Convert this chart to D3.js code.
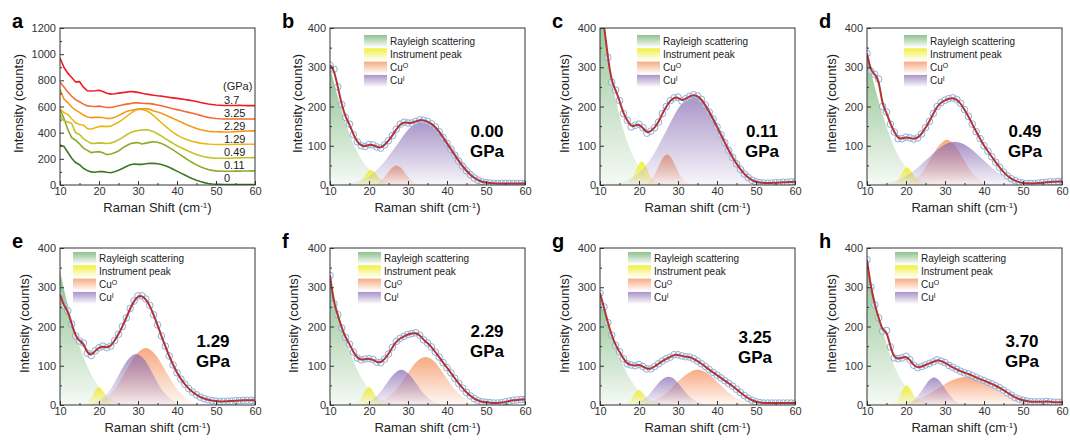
<!DOCTYPE html>
<html lang="en">
<head>
<meta charset="UTF-8">
<title>Raman spectra under pressure</title>
<script src="https://d3js.org/d3.v7.min.js"></script>
<style>
  body { margin: 0; background: #fff; }
  svg { font-family: "Liberation Sans", Arial, sans-serif; }
</style>
</head>
<body>
<div id="chart"></div>
<script>
// ---- data ----
const pressures = ["0", "0.11", "0.49", "1.29", "2.29", "3.25", "3.7"];
const gpaLabels = ["0.00", "0.11", "0.49", "1.29", "2.29", "3.25", "3.70"];
const stackOffsets = [0, 100, 200, 300, 400, 500, 600];
const lineColors = ["#3d7a1e", "#8aac2e", "#c4c12a", "#e8b820", "#f39a1c", "#f46a30", "#ef1c23"];

// measured counts, one per cm-1 from 10 to 60
const shift = d3.range(10, 61);
const obsB = [305,295,250,205,172,155,128,110,100,98, 103,102,97,94,102,113,126,142,155,160, 158,158,162,166,165,162,156,148,136,121, 106,91,76,61,48,36,26,18,12,8, 6,5,4,4,4,4,4,4,4,4, 4];
const obsC = [480,410,325,262,242,215,182,165,148,152, 155,146,132,137,146,160,182,200,215,222, 224,214,220,226,230,227,218,204,186,168, 148,128,108,88,70,54,40,28,19,12, 8,6,5,5,5,6,6,7,7,8, 8];
const obsD = [335,290,282,270,200,186,155,135,118,118, 122,120,117,120,130,146,162,182,200,210, 216,220,222,218,208,192,175,155,136,118, 100,86,72,58,45,33,23,16,11,7, 5,4,4,4,5,6,7,8,8,9, 9];
const obsE = [282,253,240,206,176,163,158,132,126,138, 146,150,146,150,164,180,200,222,246,265, 278,278,270,254,230,204,176,150,125,102, 82,66,53,42,33,26,20,16,13,11, 10,9,9,10,10,11,11,12,12,12, 12];
const obsF = [330,258,230,196,172,155,135,120,115,117, 118,116,109,108,117,130,147,162,170,175, 180,182,184,178,166,158,148,135,122,108, 95,82,68,55,43,32,23,16,11,8, 7,6,5,5,6,8,10,12,13,14, 14];
const obsG = [285,250,210,178,152,136,118,105,102,100, 103,98,92,92,98,105,112,118,122,128, 128,125,123,122,118,112,105,98,90,83, 76,69,62,55,48,40,32,24,17,12, 8,6,5,5,5,5,5,5,5,5, 5];
const obsH = [370,300,255,222,188,190,148,120,118,120, 124,115,101,95,98,102,106,110,115,112, 108,101,96,91,86,82,79,75,70,66, 62,58,54,49,44,38,31,25,19,15, 12,10,8,8,8,8,9,8,7,7, 7];

// fitted components, [shift, counts]
const rayB = [[10,301],[12,224],[14,158],[16,105],[18,66],[20,40],[22,22],[24,12],[26,6],[28,3],[30,1]];
const insB = [[16,1],[17.5,8],[18.5,19],[19.5,32],[20.5,38],[21.5,32],[22.5,19],[23.5,8],[25,1]];
const cuoB = [[20.1,0],[21.3,2],[22.4,7],[23.6,16],[24.7,30],[25.9,44],[27,50],[28.2,44],[29.3,30],[30.5,16],[31.6,7],[32.8,2],[33.9,0]];
const cuiB = [[13,2],[16.5,7],[20,22],[23.5,54],[27,100],[30.5,146],[34,165],[37.5,146],[41,100],[44.5,54],[48,22],[51.5,7],[55,2]];

const rayC = [[10,460],[12,330],[14,220],[16,140],[18,85],[20,48],[22,25],[24,12],[26,5],[28,2],[30,1]];
const insC = [[16.2,1],[17.7,10],[18.7,27],[19.7,49],[20.7,60],[21.7,49],[22.7,27],[23.7,10],[25.2,1]];
const cuoC = [[20.6,1],[21.7,3],[22.8,11],[23.9,25],[25,47],[26.1,69],[27.2,78],[28.3,69],[29.4,47],[30.5,25],[31.6,11],[32.7,3],[33.8,1]];
const cuiC = [[13,3],[16.5,10],[20,31],[23.5,74],[27,138],[30.5,201],[34,228],[37.5,201],[41,138],[44.5,74],[48,31],[51.5,10],[55,3]];

const rayD = [[10,330],[12,250],[14,180],[16,120],[18,75],[20,45],[22,24],[24,12],[26,5],[28,2],[30,1]];
const insD = [[15.8,0],[17.3,6],[18.3,18],[19.3,36],[20.3,45],[21.3,36],[22.3,18],[23.3,6],[24.8,0]];
const cuoD = [[18.5,1],[20.5,5],[22.5,16],[24.5,37],[26.5,70],[28.5,101],[30.5,115],[32.5,101],[34.5,70],[36.5,37],[38.5,16],[40.5,5],[42.5,1]];
const cuiD = [[11.5,1],[15,5],[18.5,15],[22,36],[25.5,67],[29,97],[32.5,110],[36,97],[39.5,67],[43,36],[46.5,15],[50,5],[53.5,1]];

const rayE = [[10,340],[12,255],[14,182],[16,122],[18,78],[20,46],[22,25],[24,12],[26,5],[28,2],[30,1]];
const insE = [[15.5,0],[17,6],[18,18],[19,36],[20,45],[21,36],[22,18],[23,6],[24.5,0]];
const cuoE = [[17,2],[19.5,6],[22,20],[24.5,47],[27,88],[29.5,128],[32,145],[34.5,128],[37,88],[39.5,47],[42,20],[44.5,6],[47,2]];
const cuiE = [[16.6,1],[18.8,6],[20.9,18],[23.1,42],[25.2,79],[27.4,115],[29.5,130],[31.7,115],[33.8,79],[35.9,42],[38.1,18],[40.2,6],[42.4,1]];

const rayF = [[10,330],[12,240],[14,170],[16,112],[18,70],[20,41],[22,22],[24,11],[26,5],[28,2],[30,1]];
const insF = [[15.5,0],[17,6],[18,18],[19,36],[20,45],[21,36],[22,18],[23,6],[24.5,0]];
const cuoF = [[19.5,1],[22,5],[24.5,17],[27,40],[29.5,74],[32,108],[34.5,122],[37,108],[39.5,74],[42,40],[44.5,17],[47,5],[49.5,1]];
const cuiF = [[16.9,1],[18.8,4],[20.7,12],[22.6,29],[24.5,55],[26.4,79],[28.3,90],[30.2,79],[32.1,55],[34,29],[35.9,12],[37.8,4],[39.7,1]];

const rayG = [[10,290],[12,215],[14,150],[16,100],[18,62],[20,36],[22,20],[24,10],[26,4],[28,1]];
const insG = [[15.5,0],[17,5],[18,16],[19,30],[20,38],[21,30],[22,16],[23,5],[24.5,0]];
const cuoG = [[18.5,1],[21.3,4],[24,12],[26.8,29],[29.5,55],[32.3,79],[35,90],[37.8,79],[40.5,55],[43.3,29],[46,12],[48.8,4],[51.5,1]];
const cuiG = [[17,1],[18.8,3],[20.5,10],[22.3,23],[24,44],[25.8,64],[27.5,72],[29.3,64],[31,44],[32.8,23],[34.5,10],[36.3,3],[38,1]];

const rayH = [[10,365],[12,270],[14,190],[16,125],[18,78],[20,46],[22,25],[24,12],[26,5],[28,2],[30,1]];
const insH = [[15.7,0],[17.2,7],[18.2,20],[19.2,40],[20.2,50],[21.2,40],[22.2,20],[23.2,7],[24.7,0]];
const cuoH = [[14.5,1],[18,3],[21.5,10],[25,23],[28.5,44],[32,64],[35.5,72],[39,64],[42.5,44],[46,23],[49.5,10],[53,3],[56.5,1]];
const cuiH = [[18.8,1],[20.2,3],[21.6,9],[23,23],[24.4,42],[25.8,62],[27.2,70],[28.6,62],[30,42],[31.4,23],[32.8,9],[34.2,3],[35.6,1]];

const xMajor = [10, 20, 30, 40, 50, 60];
const xMinor = [15, 25, 35, 45, 55];
const legendNames = ["Rayleigh scattering", "Instrument peak", "Cu|O", "Cu|I"];

// ---- layout ----
const cols = [60, 330, 600, 867], rows = [28, 248];
const pw = 195, ph = 157;

const svg = d3.select("#chart").append("svg")
    .attr("width", 1070)
    .attr("height", 443);
const defs = svg.append("defs");

// one vertical fade per component
const comps = [
    { id: "ray", color: "#5fa85f", top: 0.7 },
    { id: "ins", color: "#f0ec1e", top: 0.85 },
    { id: "cuo", color: "#f48a52", top: 0.72 },
    { id: "cui", color: "#8466b0", top: 0.7 }
];
comps.forEach(c => {
    const lg = defs.append("linearGradient").attr("id", "grad-" + c.id)
        .attr("x1", 0).attr("y1", 0).attr("x2", 0).attr("y2", 1);
    lg.append("stop").attr("offset", 0).attr("stop-color", c.color).attr("stop-opacity", c.top);
    lg.append("stop").attr("offset", 1).attr("stop-color", c.color).attr("stop-opacity", 0.06);
});

const fitPanels = [
    { key: "b", obs: obsB, parts: [rayB, insB, cuoB, cuiB], col: 1, row: 0, yt: 28, leg: [34, 7], lab: [157, 109] },
    { key: "c", obs: obsC, parts: [rayC, insC, cuoC, cuiC], col: 2, row: 0, yt: 31, leg: [37, 7], lab: [162, 109] },
    { key: "d", obs: obsD, parts: [rayD, insD, cuoD, cuiD], col: 3, row: 0, yt: 31, leg: [37, 7], lab: [158, 109] },
    { key: "e", obs: obsE, parts: [rayE, insE, cuoE, cuiE], col: 0, row: 1, yt: 31, leg: [13, 4], lab: [153, 99] },
    { key: "f", obs: obsF, parts: [rayF, insF, cuoF, cuiF], col: 1, row: 1, yt: 32, leg: [28, 4], lab: [157, 89] },
    { key: "g", obs: obsG, parts: [rayG, insG, cuoG, cuiG], col: 2, row: 1, yt: 31, leg: [28, 4], lab: [155, 95] },
    { key: "h", obs: obsH, parts: [rayH, insH, cuoH, cuiH], col: 3, row: 1, yt: 31, leg: [28, 4], lab: [155, 99] }
];

const x = d3.scaleLinear().domain([10, 60]).range([0, pw]);

function axes(g, y, yMajor, yMinor, xTitle, ytDx, letter) {
    const styleAxis = a => {
        a.select(".domain").remove();
        a.selectAll(".tick line").attr("stroke", "#333");
        a.selectAll(".tick text").attr("fill", "#333").attr("font-size", 11)
            .attr("font-family", "'Liberation Sans', Arial, sans-serif");
    };
    g.append("g").attr("transform", `translate(0,${ph})`)
        .call(d3.axisBottom(x).tickValues(xMajor).tickSizeInner(-4).tickSizeOuter(0).tickPadding(2.5))
        .call(styleAxis);
    g.append("g").attr("transform", `translate(0,${ph})`)
        .call(d3.axisBottom(x).tickValues(xMinor).tickSizeInner(-2).tickSizeOuter(0).tickFormat(""))
        .call(styleAxis);
    g.append("g")
        .call(d3.axisLeft(y).tickValues(yMajor).tickFormat(d3.format("d"))
            .tickSizeInner(-4).tickSizeOuter(0).tickPadding(4))
        .call(styleAxis);
    g.append("g")
        .call(d3.axisLeft(y).tickValues(yMinor).tickSizeInner(-2).tickSizeOuter(0).tickFormat(""))
        .call(styleAxis);

    g.append("rect").attr("width", pw).attr("height", ph)
        .attr("fill", "none").attr("stroke", "#333").attr("stroke-width", 1);

    const xt = g.append("text").attr("x", pw / 2).attr("y", ph + 27)
        .attr("text-anchor", "middle").attr("font-size", 13).attr("fill", "#222");
    xt.append("tspan").text(xTitle + " (cm");
    xt.append("tspan").attr("font-size", 8).attr("baseline-shift", "super").text("-1");
    xt.append("tspan").text(")");

    g.append("text").attr("transform", `translate(${-ytDx},${ph / 2 - 3}) rotate(-90)`)
        .attr("text-anchor", "middle").attr("font-size", 13).attr("fill", "#222")
        .text("Intensity (counts)");

    g.append("text").attr("x", -48).attr("y", 0)
        .attr("font-size", 20).attr("font-weight", "bold").attr("fill", "#000")
        .text(letter);
}

function clipFor(g, id) {
    defs.append("clipPath").attr("id", id)
        .append("rect").attr("width", pw).attr("height", ph);
    return g.append("g").attr("clip-path", `url(#${id})`);
}

// ---- panel a: stacked spectra ----
{
    const g = svg.append("g").attr("transform", `translate(${cols[0]},${rows[0]})`);
    const y = d3.scaleLinear().domain([0, 1200]).range([ph, 0]);
    const inner = clipFor(g, "clip-a");
    const spectra = [obsB, obsC, obsD, obsE, obsF, obsG, obsH];
    const line = d3.line().x(d => x(d[0])).y(d => y(d[1]));
    spectra.forEach((s, i) => {
        inner.append("path")
            .datum(shift.map((v, j) => [v, s[j] + stackOffsets[i]]))
            .attr("fill", "none").attr("stroke", lineColors[i]).attr("stroke-width", 1.6)
            .attr("d", line);
    });
    g.append("text").attr("x", 163).attr("y", y(700) - 3)
        .attr("font-size", 11).attr("fill", "#222").text("(GPa)");
    pressures.forEach((p, i) => {
        g.append("text").attr("x", 164).attr("y", y(stackOffsets[i]) - 3)
            .attr("font-size", 11).attr("fill", "#222").text(p);
    });
    axes(g, y, [0, 200, 400, 600, 800, 1000, 1200], [100, 300, 500, 700, 900, 1100],
        "Raman Shift", 37, "a");
}

// ---- panels b-h: fitted spectra ----
const y4 = d3.scaleLinear().domain([0, 400]).range([ph, 0]);
const area = d3.area().x(d => x(d[0])).y0(y4(0)).y1(d => y4(d[1])).curve(d3.curveMonotoneX);
const fitLine = d3.line().x(d => x(d[0])).y(d => y4(d[1])).curve(d3.curveBasis);

fitPanels.forEach((p, k) => {
    const g = svg.append("g").attr("transform", `translate(${cols[p.col]},${rows[p.row]})`);
    const inner = clipFor(g, "clip-" + p.key);

    p.parts.forEach((pts, i) => {
        inner.append("path").datum(pts)
            .attr("fill", `url(#grad-${comps[i].id})`)
            .attr("d", area);
    });

    const pts = shift.map((v, j) => [v, p.obs[j]]);
    inner.selectAll("circle").data(pts).join("circle")
        .attr("cx", d => x(d[0])).attr("cy", d => y4(d[1])).attr("r", 3.3)
        .attr("fill", "rgba(255,255,255,0.35)").attr("stroke", "#8eaedb").attr("stroke-width", 1);
    inner.append("path").datum(pts)
        .attr("fill", "none").attr("stroke", "#b03636").attr("stroke-width", 2)
        .attr("d", fitLine);

    // legend
    const lg = g.append("g").attr("transform", `translate(${p.leg[0]},${p.leg[1]})`);
    legendNames.forEach((name, i) => {
        const row = lg.append("g").attr("transform", `translate(0,${i * 13.3})`);
        row.append("rect").attr("width", 23).attr("height", 11.5)
            .attr("fill", `url(#grad-${comps[i].id})`);
        const t = row.append("text").attr("x", 26).attr("y", 9.5)
            .attr("font-size", 10).attr("fill", "#222");
        const parts = name.split("|");
        t.append("tspan").text(parts[0]);
        if (parts[1]) t.append("tspan").attr("font-size", 7).attr("baseline-shift", "super").text(parts[1]);
    });

    // pressure label
    const lab = g.append("text").attr("text-anchor", "middle")
        .attr("font-size", 17).attr("font-weight", "bold").attr("fill", "#000");
    lab.append("tspan").attr("x", p.lab[0]).attr("y", p.lab[1]).text(gpaLabels[k]);
    lab.append("tspan").attr("x", p.lab[0]).attr("y", p.lab[1] + 20).text("GPa");

    axes(g, y4, [0, 100, 200, 300, 400], [50, 150, 250, 350], "Raman shift", p.yt, p.key);
});
</script>
</body>
</html>
